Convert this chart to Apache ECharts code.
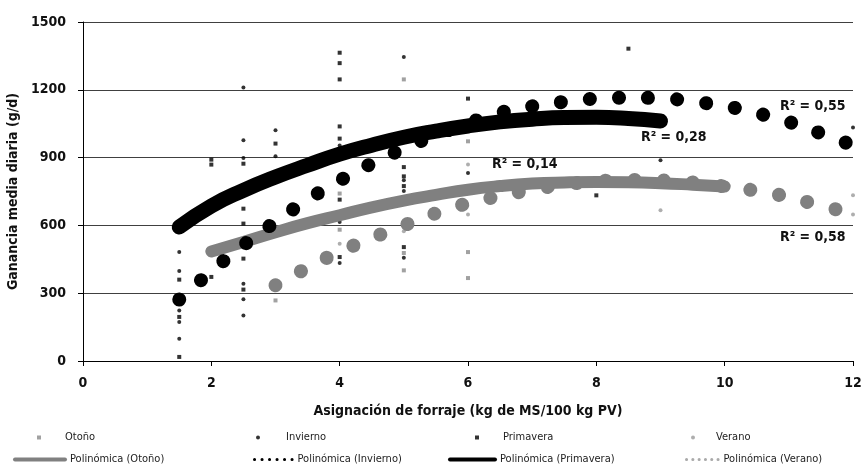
<!DOCTYPE html>
<html>
<head>
<meta charset="utf-8">
<title>Ganancia media diaria</title>
<script src="https://cdn.jsdelivr.net/npm/echarts@6/dist/echarts.min.js"></script>
<style>
  html, body { margin: 0; padding: 0; background: #fff; }
  #chart { width: 861px; height: 470px; }
</style>
</head>
<body>
<div id="chart"></div>
<script>
// observaciones [asignación, ganancia]
const otonoPts = [[3, 268], [4, 741], [4, 581], [5, 1246], [5, 478], [5, 401], [6, 972], [6, 482], [6, 367]];
const inviernoPts = [[1.5, 482], [1.5, 398], [1.5, 224], [1.5, 173], [1.5, 99], [2.5, 1210], [2.5, 977], [2.5, 898],
  [2.5, 342], [2.5, 273], [2.5, 201], [3, 1021], [3, 906], [4, 953], [4, 822], [4, 615], [4, 434], [5, 1345],
  [5, 800], [5, 752], [5, 457], [6, 832], [9, 888], [12, 1033]];
const primaveraPts = [[1.5, 360], [1.5, 195], [1.5, 18], [2, 891], [2, 869], [2, 372], [2.5, 873], [2.5, 773],
  [2.5, 755], [2.5, 674], [2.5, 608], [2.5, 453], [2.5, 316], [3, 962], [4, 1364], [4, 1318], [4, 1246], [4, 1038],
  [4, 984], [4, 799], [4, 714], [4, 460], [5, 858], [5, 817], [5, 774], [5, 504], [6, 1161], [8, 733], [8.5, 1382]];
const veranoPts = [[4, 519], [5, 574], [6, 869], [6, 648], [9, 667], [12, 733], [12, 648]];

// curvas de tendencia
const otonoFitX = [2, 2.5, 3, 3.5, 4, 4.5, 5, 5.5, 6, 6.5, 7, 7.5, 8, 8.5, 9, 9.5, 10];
const otonoFitY = [485, 527, 570, 610, 645, 680, 710, 735, 758, 774, 785, 790, 792, 791, 787, 780, 772];
const inviernoFitX = [1.5, 2, 2.5, 3, 3.5, 4, 4.5, 5, 5.5, 6, 6.5, 7, 7.5, 8, 8.5, 9, 9.5, 10, 10.5, 11, 11.5, 11.9];
const inviernoFitY = [272, 397, 512, 616, 713, 798, 874, 940, 1000, 1052, 1098, 1127, 1147, 1161, 1165, 1163, 1148,
  1128, 1097, 1058, 1007, 965];
const primaveraFitX = [1.5, 2, 2.5, 3, 3.5, 4, 4.5, 5, 5.5, 6, 6.5, 7, 7.5, 8, 8.5, 9];
const primaveraFitY = [593, 686, 755, 814, 866, 915, 955, 990, 1017, 1040, 1058, 1070, 1077, 1078, 1073, 1062];
const veranoFitX = [3, 3.5, 4, 4.5, 5, 5.5, 6, 6.5, 7, 7.5, 8, 8.5, 9, 9.5, 10, 10.5, 11, 11.5, 11.75];
const veranoFitY = [335, 413, 483, 544, 600, 654, 698, 730, 758, 780, 795, 801, 799, 790, 772, 753, 725, 687, 670];

const r2Labels = ['R² = 0,55', 'R² = 0,28', 'R² = 0,14', 'R² = 0,58'];

const FONT = "'Liberation Sans Narrow', 'Arial Narrow', 'DejaVu Sans Condensed', sans-serif";
const GRAY = '#808080';
const SQUARE = 'path://M0 0H10V10H0Z';

function pairs(xs, ys) {
  return xs.map((x, i) => [x, ys[i]]);
}

function scatter(name, data, symbol, color) {
  return {
    name: name, type: 'scatter', data: data, symbol: symbol, symbolSize: 4,
    itemStyle: { color: color }, clip: false, silent: true
  };
}

function trend(name, xs, ys, color, width, dash) {
  return {
    name: name, type: 'line', data: pairs(xs, ys), smooth: true,
    symbol: 'none', showSymbol: false, silent: true,
    lineStyle: { color: color, width: width, type: dash || 'solid', cap: 'round', join: 'round' },
    itemStyle: { color: color }
  };
}

function legendItem(name, left, top, w, h, extra) {
  return Object.assign({
    data: [name], left: left, top: top, itemWidth: w, itemHeight: h,
    padding: 0, selectedMode: false,
    textStyle: { fontFamily: FONT, fontSize: 11, color: '#222' }
  }, extra || {});
}

// hide the marker that echarts puts in the middle of a line icon
const noMarker = { opacity: 0, borderWidth: 0 };

const chart = echarts.init(document.getElementById('chart'));

chart.setOption({
  animation: false,
  backgroundColor: '#fff',
  grid: { left: 83, right: 8, top: 22, bottom: 109, outerBoundsMode: 'none', containLabel: false },
  xAxis: {
    type: 'value', min: 0, max: 12, interval: 2,
    name: 'Asignación de forraje (kg de MS/100 kg PV)',
    nameLocation: 'middle', nameGap: 43,
    nameTextStyle: { fontFamily: FONT, fontSize: 14, fontWeight: 'bold', color: '#111' },
    axisLine: { lineStyle: { color: '#000', width: 1 } },
    axisTick: { show: true, length: 5, lineStyle: { color: '#000' } },
    axisLabel: { margin: 15, fontFamily: FONT, fontSize: 14, fontWeight: 'bold', color: '#111' },
    splitLine: { show: false }
  },
  yAxis: {
    type: 'value', min: 0, max: 1500, interval: 300,
    name: 'Ganancia media diaria (g/d)',
    nameLocation: 'middle', nameGap: 60,
    nameTextStyle: { fontFamily: FONT, fontSize: 14, fontWeight: 'bold', color: '#111' },
    axisLine: { show: true, lineStyle: { color: '#000', width: 1 } },
    axisTick: { show: true, length: 5, lineStyle: { color: '#000' } },
    axisLabel: {
      margin: 17, fontFamily: FONT, fontSize: 14, fontWeight: 'bold', color: '#111',
      formatter: v => String(v)
    },
    splitLine: { show: true, lineStyle: { color: '#404040', width: 1 } }
  },
  legend: [
    legendItem('Otoño', 37, 432, 42, 4, { icon: SQUARE }),
    legendItem('Invierno', 256, 432, 46, 4),
    legendItem('Primavera', 475, 432, 42, 4, { icon: SQUARE }),
    legendItem('Verano', 691, 432, 36, 4),
    legendItem('Polinómica (Otoño)', 13, 454, 50, 8, { lineStyle: { width: 4 }, itemStyle: noMarker }),
    legendItem('Polinómica (Invierno)', 253, 454, 38, 8,
      { lineStyle: { width: 3, type: [0.1, 7.4], cap: 'round' }, itemStyle: noMarker }),
    legendItem('Polinómica (Primavera)', 448, 454, 45, 8, { lineStyle: { width: 4 }, itemStyle: noMarker }),
    legendItem('Polinómica (Verano)', 685, 454, 32, 8,
      { lineStyle: { width: 3, type: [0.1, 6.2], cap: 'round', color: '#aaa' }, itemStyle: noMarker })
  ],
  series: [
    scatter('Otoño', otonoPts, 'rect', '#8a8a8a'),
    scatter('Invierno', inviernoPts, 'circle', '#000'),
    scatter('Primavera', primaveraPts, 'rect', '#000'),
    scatter('Verano', veranoPts, 'circle', '#9a9a9a'),
    trend('Polinómica (Otoño)', otonoFitX, otonoFitY, GRAY, 12),
    trend('Polinómica (Invierno)', inviernoFitX, inviernoFitY, '#000', 14, [0.1, 29]),
    trend('Polinómica (Primavera)', primaveraFitX, primaveraFitY, '#000', 15),
    trend('Polinómica (Verano)', veranoFitX, veranoFitY, GRAY, 14, [0.1, 29])
  ],
  graphic: [
    { type: 'text', left: 780, top: 99, style: { text: r2Labels[0], font: 'bold 14px ' + FONT, fill: '#111' } },
    { type: 'text', left: 641, top: 130, style: { text: r2Labels[1], font: 'bold 14px ' + FONT, fill: '#111' } },
    { type: 'text', left: 492, top: 157, style: { text: r2Labels[2], font: 'bold 14px ' + FONT, fill: '#111' } },
    { type: 'text', left: 780, top: 230, style: { text: r2Labels[3], font: 'bold 14px ' + FONT, fill: '#111' } }
  ]
});
</script>
</body>
</html>
